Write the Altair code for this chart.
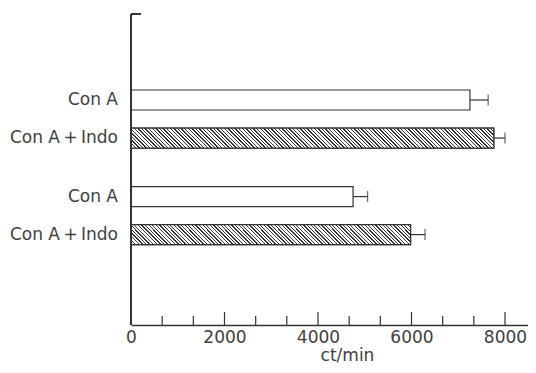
import altair as alt
import pandas as pd

# ---- data ----
labels = ["Con A", "Con A\u2009+\u2009Indo", "Con A", "Con A\u2009+\u2009Indo"]
groups = ["1", "1", "2", "2"]
treatments = ["Con A", "Con A+Indo", "Con A", "Con A+Indo"]
means = [7250, 7760, 4750, 5980]
errors = [390, 240, 310, 310]
major_ticks = [2000, 4000, 6000, 8000]
minor_ticks = [667, 1333, 2667, 3333, 4667, 5333, 6667, 7333]
x_labels = [0, 2000, 4000, 6000, 8000]

X_MAX = 8492
W_PLOT = 397
H_PLOT = 311
BAR_H = 20
INK = "#333333"
TXT = "#404040"
FONT = "DejaVu Sans"

df = pd.DataFrame({
    "row": list(range(len(labels))),
    "label": labels,
    "group": groups,
    "treatment": treatments,
    "mean": means,
    "err": errors,
})
df["hi"] = df["mean"] + df["err"]

ticks_df = pd.DataFrame({
    "v": major_ticks + minor_ticks,
    "kind": ["major"] * len(major_ticks) + ["minor"] * len(minor_ticks),
})

y_enc = alt.Y("group:N", scale=alt.Scale(paddingInner=0.399, paddingOuter=0.81, align=0.486), axis=None)
yoff_enc = alt.YOffset("treatment:N", scale=alt.Scale(paddingInner=0.474, paddingOuter=0),
                       sort=["Con A", "Con A+Indo"])
x_scale = alt.Scale(domain=[0, X_MAX], nice=False, zero=True)
x_axis = alt.Axis(values=x_labels, format="d", ticks=False, tickSize=0, grid=False, domainColor=INK, domainWidth=1.3,
                  labelFont=FONT, labelFontSize=17, labelColor=TXT, labelPadding=4, labelFlush=False,
                  title="ct/min", titleFont=FONT, titleFontSize=17, titleFontWeight="normal", titleColor=TXT,
                  titleX=216, titleY=35, titleBaseline="alphabetic", titleAlign="center", titleAnchor="start")


def hatch(value):
    W = value * W_PLOT / X_MAX
    H = BAR_H
    k = (W + H) / (W + H * H / W)
    span = W + H
    P, lw = 3.6, 1.3
    stops = [alt.GradientStop(offset=0, color="white")]
    pos = 0.6
    while pos < span:
        a = pos / span
        b = min((pos + lw) / span, 1.0)
        stops += [alt.GradientStop(offset=a, color="white"), alt.GradientStop(offset=a, color=INK),
                  alt.GradientStop(offset=b, color=INK), alt.GradientStop(offset=b, color="white")]
        pos += P
    stops.append(alt.GradientStop(offset=1, color="white"))
    return alt.LinearGradient(gradient="linear", stops=stops, x1=0, y1=1, x2=k, y2=1 - k * H / W)


base = alt.Chart(df)

bars = base.mark_bar(fill="white", stroke=INK, strokeWidth=1.2).encode(
    x=alt.X("mean:Q", scale=x_scale, axis=x_axis, title="ct/min"),
    y=y_enc, yOffset=yoff_enc,
)

hatched = []
for r, t, m in zip(range(len(labels)), treatments, means):
    if t == "Con A+Indo":
        hatched.append(
            base.transform_filter(alt.datum.row == r).mark_bar(fill=hatch(m), stroke=INK, strokeWidth=1.2).encode(
                x=alt.X("mean:Q", scale=x_scale, title="ct/min"), y=y_enc, yOffset=yoff_enc)
        )

err_rule = base.mark_rule(color=INK, strokeWidth=1.2).encode(
    x=alt.X("mean:Q", scale=x_scale, title="ct/min"), x2="hi:Q", y=y_enc, yOffset=yoff_enc)
err_cap = base.mark_tick(orient="vertical", size=11, thickness=1.3, color=INK).encode(
    x=alt.X("hi:Q", scale=x_scale, title="ct/min"), y=y_enc, yOffset=yoff_enc)

text = base.mark_text(align="right", baseline="middle", dx=-13, font=FONT, fontSize=17, color=TXT).encode(
    x=alt.value(0), y=y_enc, yOffset=yoff_enc, text="label:N")

tick_major = alt.Chart(ticks_df).transform_filter(alt.datum.kind == "major").mark_rule(
    color=INK, strokeWidth=1.2).encode(
    x=alt.X("v:Q", scale=x_scale, title="ct/min"), y=alt.value(H_PLOT), y2=alt.value(H_PLOT - 13))
tick_minor = alt.Chart(ticks_df).transform_filter(alt.datum.kind == "minor").mark_rule(
    color=INK, strokeWidth=1.2).encode(
    x=alt.X("v:Q", scale=x_scale, title="ct/min"), y=alt.value(H_PLOT), y2=alt.value(H_PLOT - 9))

y_line = alt.Chart(df).mark_rule(color=INK, strokeWidth=1.3).encode(
    x=alt.value(0), y=alt.value(0), y2=alt.value(H_PLOT))
top_tick = alt.Chart(df).mark_rule(color=INK, strokeWidth=1.3).encode(
    x=alt.value(0), x2=alt.value(10), y=alt.value(0))

chart = alt.layer(bars, *hatched, err_rule, err_cap, text, tick_major, tick_minor, y_line, top_tick).properties(
    width=W_PLOT, height=H_PLOT,
    padding={"left": 123, "top": 6, "right": 0, "bottom": 40},
    autosize="none",
).configure_view(stroke=None)

chart.save("out.html", embed_options={"renderer": "svg", "actions": False})
